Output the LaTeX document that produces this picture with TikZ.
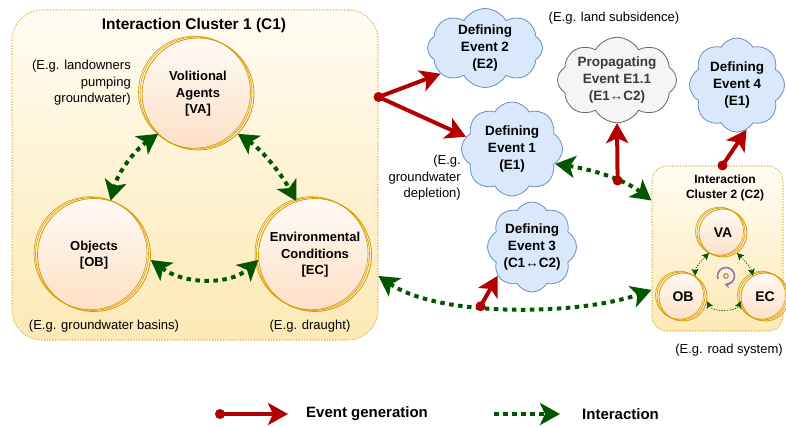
\documentclass[tikz,border=0pt]{standalone}
\usepackage{fontspec}
\setmainfont{Liberation Sans}
\usetikzlibrary{arrows.meta,shapes.symbols,calc}
\definecolor{evred}{HTML}{B20000}
\definecolor{intgreen}{HTML}{005700}
\definecolor{ringc}{HTML}{D79B00}
\definecolor{cltop}{HTML}{FFFCF3}
\definecolor{clbot}{HTML}{FDE9B5}
\definecolor{clline}{HTML}{D6B656}
\definecolor{agtop}{HTML}{FFFAF4}
\definecolor{agbot}{HTML}{FDE0C4}
\definecolor{cloudfill}{HTML}{DAE8FC}
\definecolor{cloudline}{HTML}{6C8EBF}
\definecolor{grayfill}{HTML}{F5F5F5}
\definecolor{grayline}{HTML}{666666}
\definecolor{graytext}{HTML}{3A3A3A}
\definecolor{cyc}{HTML}{9673A6}
\newcommand\sketchrings[2]{%
  \draw[ringc, line width=0.6pt] ([shift={(-2,-1)}]#1.center) circle[radius=#2];
  \draw[ringc, line width=0.6pt] ([shift={(-3.5,-1.8)}]#1.center) circle[radius=#2];}
\begin{document}
\begin{tikzpicture}[x=1pt,y=-1pt,
  cluster/.style={draw=clline, line width=1.1pt, dash pattern=on 1.2pt off 1.6pt, top color=cltop, bottom color=clbot},
  agent/.style={circle, draw=ringc, line width=0.8pt, top color=agtop, bottom color=agbot, inner sep=0pt, align=center, font=\bfseries\fontsize{13}{16.5}\selectfont},
  cloudy/.style={cloud, cloud puffs=8, cloud puff arc=120, cloud ignores aspect, draw=cloudline, fill=cloudfill, line width=0.8pt, inner sep=0pt, align=center, font=\bfseries\fontsize{13.5}{17}\selectfont},
  lbl/.style={inner sep=0pt, font=\fontsize{13}{16.5}\selectfont},
  dotn/.style={circle, fill=evred, inner sep=0pt, minimum size=10pt},
  evt/.style={draw=evred, line width=4pt, -{Stealth[length=20pt,width=22pt,inset=5pt]}},
  inter/.style={draw=intgreen, line width=4pt, dash pattern=on 4.5pt off 4.5pt, {Stealth[length=20pt,width=22pt,inset=5pt]}-{Stealth[length=20pt,width=22pt,inset=5pt]}},
  minter/.style={draw=intgreen, line width=0.8pt, dash pattern=on 1.2pt off 1.5pt, {Stealth[length=7pt,width=7pt,inset=1.5pt]}-{Stealth[length=7pt,width=7pt,inset=1.5pt]}},
  leg/.style={inner sep=0pt, anchor=west, font=\bfseries\fontsize{15}{18}\selectfont}]
\useasboundingbox (0,0) rectangle (786,427);

% Cluster 1
\node[cluster, rounded corners=30pt, minimum width=366pt, minimum height=330pt] (C1) at (195,175) {};
\node[inner sep=0pt, font=\bfseries\fontsize{15.5}{18}\selectfont] (t1) at (194,25) {Interaction Cluster 1 (C1)};

\node[agent, minimum size=112pt] (VA) at (198,94) {Volitional\\Agents\\{[VA]}};
\sketchrings{VA}{56pt}
\node[agent, minimum size=113pt] (OB) at (94,255) {Objects\\{[OB]}};
\sketchrings{OB}{56.5pt}
\node[agent, minimum size=113pt] (EC) at (315,255) {Environmental\\Conditions\\{[EC]}};
\sketchrings{EC}{56.5pt}

\node[lbl, align=right, anchor=east] (exva) at (131,83) {(E.g. landowners\\pumping\\groundwater)};
\node[lbl] (exob) at (104,326) {(E.g. groundwater basins)};
\node[lbl] (exec) at (310,326) {(E.g. draught)};

\draw[inter] (VA.225) .. controls (135,150) and (118,172) .. (OB.73);
\draw[inter] (VA.315) .. controls (262,150) and (280,172) .. (EC.109);
\draw[inter] (OB.-5) .. controls (185,285) and (230,285) .. (EC.185);

% Cluster 2
\node[cluster, rounded corners=15pt, minimum width=131pt, minimum height=165pt] (C2) at (717.5,248.5) {};
\node[inner sep=0pt, align=center, font=\bfseries\fontsize{12}{15}\selectfont] (t2) at (725,187.5) {Interaction\\Cluster 2 (C2)};
\node[agent, minimum size=48pt, font=\bfseries\fontsize{14}{16}\selectfont] (va2) at (723,233) {VA};
\sketchrings{va2}{24pt}
\node[agent, minimum size=48pt, font=\bfseries\fontsize{14}{16}\selectfont] (ob2) at (683,297) {OB};
\sketchrings{ob2}{24pt}
\node[agent, minimum size=48pt, font=\bfseries\fontsize{14}{16}\selectfont] (ec2) at (765,297) {EC};
\sketchrings{ec2}{24pt}
\draw[minter] (va2.235) .. controls (700,262) and (695,268) .. (ob2.60);
\draw[minter] (va2.-55) .. controls (746,262) and (751,268) .. (ec2.120);
\draw[minter] (ob2.-10) .. controls (712,312) and (736,312) .. (ec2.190);
\node[circle, draw=cyc, line width=1pt, inner sep=0pt, minimum size=4.5pt] (cyc) at (726,276) {};
\draw[cyc, line width=1.6pt, -{Stealth[length=5pt,width=6pt]}] ($(cyc)+(-8,2.9)$) arc[start angle=160, end angle=460, radius=8.5];
\node[lbl] (exc2) at (729,350) {(E.g. road system)};

% Events
\node[cloudy, minimum width=115pt, minimum height=79pt] (E2) at (485,48) {Defining\\Event 2\\(E2)};
\node[cloudy, draw=grayline, fill=grayfill, text=graytext, minimum width=119pt, minimum height=79pt] (E11) at (617,80) {Propagating\\Event E1.1\\(E1↔C2)};
\node[lbl] (exe11) at (614,18) {(E.g. land subsidence)};
\node[cloudy, minimum width=95pt, minimum height=94pt] (E4) at (737,85) {Defining\\Event 4\\(E1)};
\node[cloudy, minimum width=101pt, minimum height=94pt] (E1) at (512,149) {Defining\\Event 1\\(E1)};
\node[lbl, align=right, anchor=east] (exe1) at (461,178) {(E.g.\\groundwater\\depletion)};
\node[cloudy, minimum width=83pt, minimum height=90pt] (E3) at (532,247) {Defining\\Event 3\\(C1↔C2)};

% interactions
\draw[inter] (E1.-19) .. controls (595,170) and (625,180) .. coordinate[pos=0.6] (p11) ([yshift=48pt]C2.west);
\draw[inter] ([yshift=-101pt]C1.east) .. controls (440,318) and (580,315) .. coordinate[pos=0.4] (p3) ([yshift=-41.5pt]C2.west);

% event generation
\node[dotn] (d1) at ([yshift=78pt]C1.east) {};
\draw[evt] (d1.center) -- (E2.210);
\draw[evt] (d1.center) -- (E1.165);
\node[dotn] (d11) at (p11) {};
\draw[evt] (d11.center) -- (E11.south);
\node[dotn] (d4) at ([xshift=5pt]C2.north) {};
\draw[evt] (d4.center) -- (E4.-78);
\node[dotn] (d3) at (p3) {};
\draw[evt] (d3.center) -- (E3.220);

% legend
\node[dotn] (ld) at (220,414) {};
\coordinate (le) at (288,414);
\draw[evt] (ld.center) -- (le);
\node[leg] (lt1) at (306,414) {Event generation};
\coordinate (lg1) at (494,414);
\coordinate (lg2) at (560,414);
\draw[draw=intgreen, line width=4pt, dash pattern=on 4.5pt off 4.5pt, -{Stealth[length=20pt,width=22pt,inset=5pt]}] (lg1) -- (lg2);
\node[leg] (lt2) at (582,414) {Interaction};
\end{tikzpicture}
\end{document}
